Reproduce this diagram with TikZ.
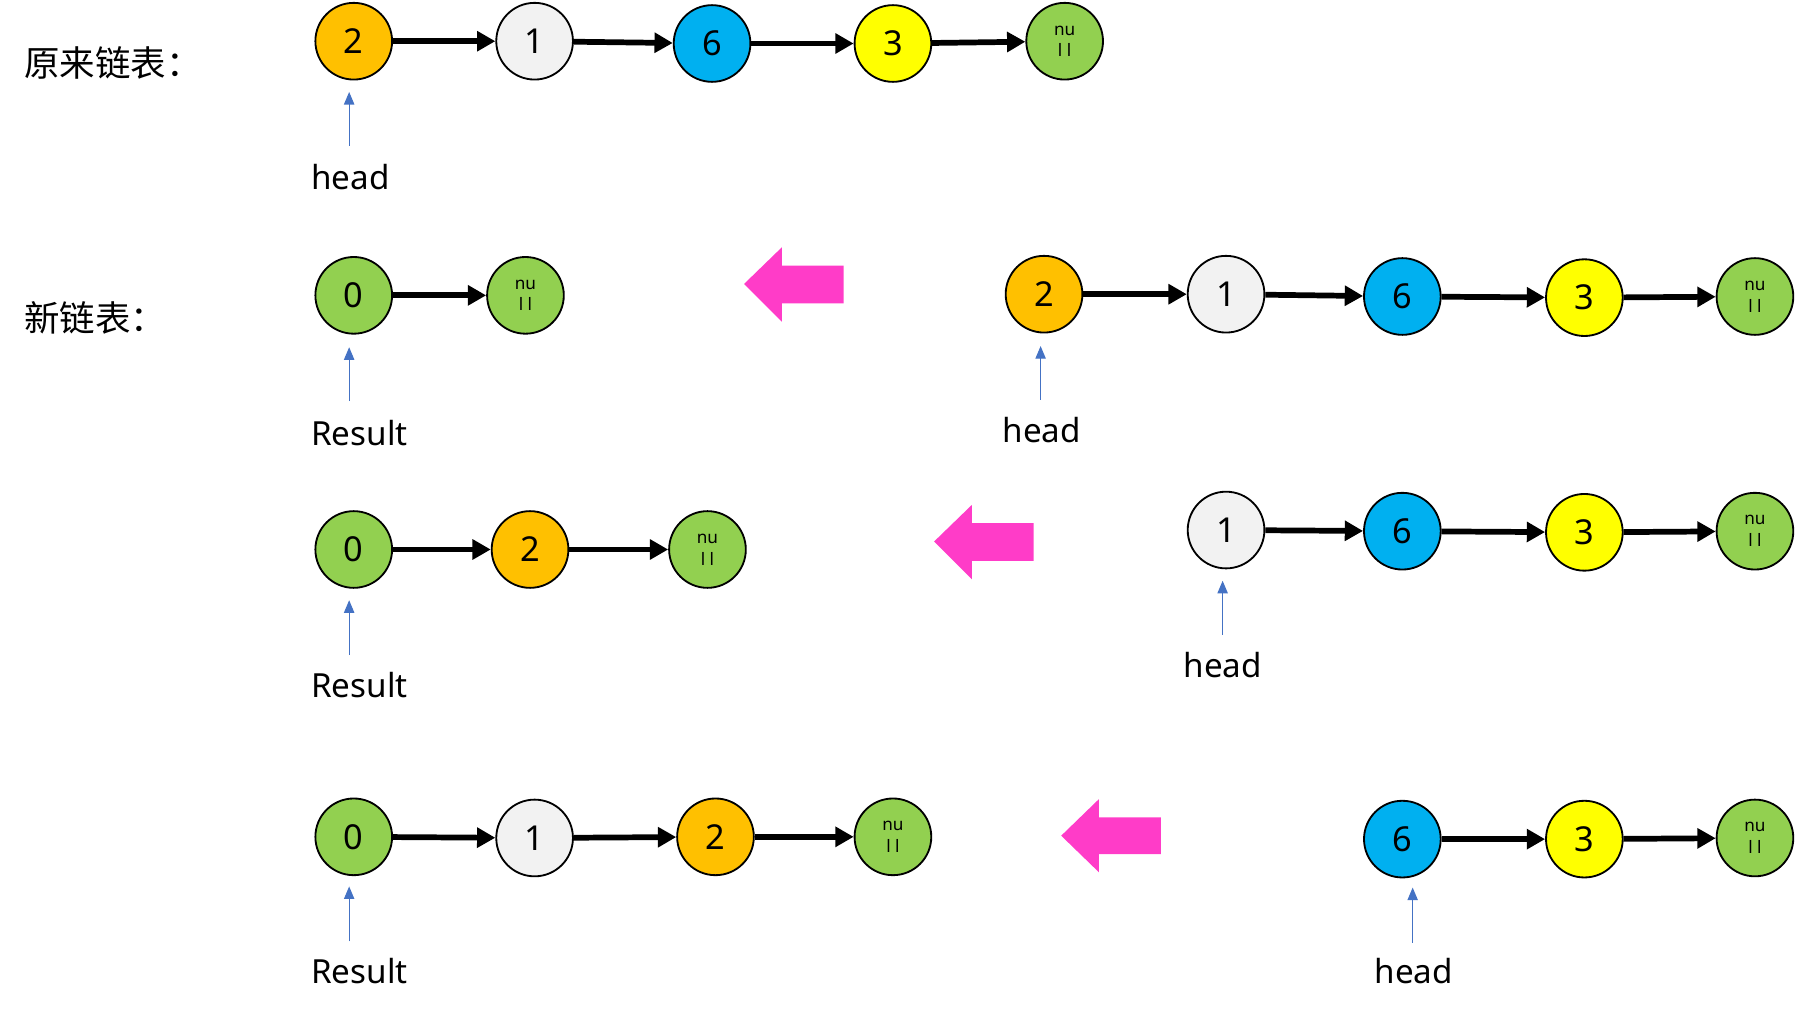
\documentclass[tikz,border=0pt]{standalone}
\usepackage{fontspec}
\setmainfont{Noto Sans}
\newfontfamily\cjk{Noto Sans CJK SC}
\usetikzlibrary{arrows.meta}
\definecolor{cOr}{HTML}{FFC000}
\definecolor{cGy}{HTML}{F2F2F2}
\definecolor{cBu}{HTML}{00B0F0}
\definecolor{cYe}{HTML}{FFFF00}
\definecolor{cGr}{HTML}{92D050}
\definecolor{cPk}{HTML}{FF3CC8}
\definecolor{cPtr}{HTML}{4472C4}
\tikzset{
  lnode/.style={circle, draw=black, line width=1.6pt, minimum size=67pt, inner sep=0pt,
    font=\fontsize{30}{34}\selectfont},
  nullnode/.style={lnode, fill=cGr, align=center, font=\fontsize{15}{19}\selectfont},
  link/.style={line width=5pt, -{Triangle[length=16pt,width=17pt]}},
  ptr/.style={draw=cPtr, line width=1pt, -{Triangle[length=11pt,width=9pt]}},
  lbl/.style={font=\fontsize{29}{34}\selectfont, inner sep=0pt},
  title/.style={font=\cjk\fontsize{31}{36}\selectfont, inner sep=0pt, anchor=west},
  bigarrow/.style={fill=cPk, draw=none}
}
\begin{document}
\begin{tikzpicture}[x=1pt,y=-1pt]
\useasboundingbox (0,0) rectangle (1568,888);
% titles
\node[title] (t1) at (21,55) {原来链表：};
\node[title] (t2) at (21,278) {新链表：};

% Row 1
\node[lnode, fill=cOr] (a2) at (309,36) {2};
\node[lnode, fill=cGy] (a1) at (467,36) {1};
\node[lnode, fill=cBu] (a6) at (622,38) {6};
\node[lnode, fill=cYe] (a3) at (780,38) {3};
\node[nullnode] (an) at (930,36) {nu\\l l};
\draw[link] (a2) -- (a1);
\draw[link] (a1) -- (a6);
\draw[link] (a6) -- (a3);
\draw[link] (a3) -- (an);
\node[lbl] (ah) at (306,155) {head};
\draw[ptr] ([xshift=-4pt,yshift=-57pt]a2.south) -- ([xshift=-4pt,yshift=-10pt]a2.south);

% Row 2 left
\node[lnode, fill=cGr] (b0) at (309,258) {0};
\node[nullnode] (bn) at (459,258) {nu\\l l};
\draw[link] (b0) -- (bn);
\node[lbl] (br) at (314,378) {Result};
\draw[ptr] ([xshift=-4pt,yshift=-58pt]b0.south) -- ([xshift=-4pt,yshift=-11pt]b0.south);
% pink arrow
\fill[bigarrow] (650,248) -- (683,216) -- (683,232) -- (737,232) -- (737,265) -- (683,265) -- (683,281) -- cycle;
% Row 2 right
\node[lnode, fill=cOr] (c2) at (912,257) {2};
\node[lnode, fill=cGy] (c1) at (1071,257) {1};
\node[lnode, fill=cBu] (c6) at (1225,259) {6};
\node[lnode, fill=cYe] (c3) at (1384,260) {3};
\node[nullnode] (cn) at (1533,259) {nu\\l l};
\draw[link] (c2) -- (c1);
\draw[link] (c1) -- (c6);
\draw[link] (c6) -- (c3);
\draw[link] (c3) -- (cn);
\node[lbl] (ch) at (910,376) {head};
\draw[ptr] ([xshift=-3pt,yshift=-58pt]c2.south) -- ([xshift=-3pt,yshift=-11pt]c2.south);

% Row 3 left
\node[lnode, fill=cGr] (d0) at (309,480) {0};
\node[lnode, fill=cOr] (d2) at (463,480) {2};
\node[nullnode] (dn) at (618,480) {nu\\l l};
\draw[link] (d0) -- (d2);
\draw[link] (d2) -- (dn);
\node[lbl] (dr) at (314,598) {Result};
\draw[ptr] ([xshift=-4pt,yshift=-58pt]d0.south) -- ([xshift=-4pt,yshift=-10pt]d0.south);
\fill[bigarrow] (816,473) -- (849,441) -- (849,457) -- (903,457) -- (903,490) -- (849,490) -- (849,506) -- cycle;
% Row 3 right
\node[lnode, fill=cGy] (e1) at (1071,463) {1};
\node[lnode, fill=cBu] (e6) at (1225,464) {6};
\node[lnode, fill=cYe] (e3) at (1384,465) {3};
\node[nullnode] (en) at (1533,464) {nu\\l l};
\draw[link] (e1) -- (e6);
\draw[link] (e6) -- (e3);
\draw[link] (e3) -- (en);
\node[lbl] (eh) at (1068,581) {head};
\draw[ptr] ([xshift=-3pt,yshift=-57pt]e1.south) -- ([xshift=-3pt,yshift=-10pt]e1.south);

% Row 4 left
\node[lnode, fill=cGr] (f0) at (309,731) {0};
\node[lnode, fill=cGy] (f1) at (467,732) {1};
\node[lnode, fill=cOr] (f2) at (625,731) {2};
\node[nullnode] (fn) at (780,731) {nu\\l l};
\draw[link] (f0) -- (f1);
\draw[link] (f1) -- (f2);
\draw[link] (f2) -- (fn);
\node[lbl] (fr) at (314,848) {Result};
\draw[ptr] ([xshift=-4pt,yshift=-57pt]f0.south) -- ([xshift=-4pt,yshift=-9pt]f0.south);
\fill[bigarrow] (927,730) -- (960,698) -- (960,714) -- (1014,714) -- (1014,746) -- (960,746) -- (960,762) -- cycle;
% Row 4 right
\node[lnode, fill=cBu] (g6) at (1225,733) {6};
\node[lnode, fill=cYe] (g3) at (1384,733) {3};
\node[nullnode] (gn) at (1533,732) {nu\\l l};
\draw[link] (g6) -- (g3);
\draw[link] (g3) -- (gn);
\node[lbl] (gh) at (1235,848) {head};
\draw[ptr] ([xshift=9pt,yshift=-56pt]g6.south) -- ([xshift=9pt,yshift=-8pt]g6.south);
\end{tikzpicture}
\end{document}
